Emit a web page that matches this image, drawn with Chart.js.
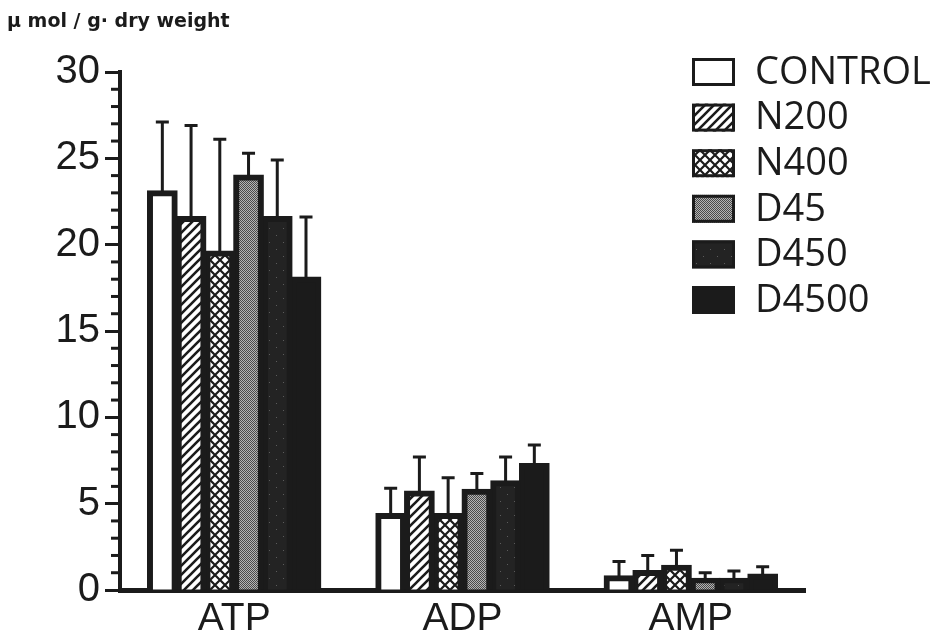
<!DOCTYPE html>
<html>
<head>
<meta charset="utf-8">
<script src="https://cdn.jsdelivr.net/npm/chart.js@4.4.1/dist/chart.umd.min.js"></script>
<style>
html, body { margin: 0; padding: 0; background: #fff; }
</style>
</head>
<body>
<canvas id="barChart" width="943" height="642"></canvas>
<script>
'use strict';

// categories and groups
const categories = ['ATP', 'ADP', 'AMP'];
const groups = ['CONTROL', 'N200', 'N400', 'D45', 'D450', 'D4500'];

// means (umol / g dry weight)
const control = [23.1, 4.4, 0.8];
const n200 = [21.6, 5.7, 1.1];
const n400 = [19.6, 4.4, 1.4];
const d45 = [24.0, 5.8, 0.65];
const d450 = [21.6, 6.3, 0.65];
const d4500 = [18.1, 7.3, 0.9];

// SD (upper error bar only)
const controlSd = [4.0, 1.5, 0.85];
const n200Sd = [5.3, 2.0, 0.9];
const n400Sd = [6.5, 2.1, 0.9];
const d45Sd = [1.3, 0.95, 0.35];
const d450Sd = [3.3, 1.4, 0.45];
const d4500Sd = [3.5, 1.1, 0.45];

const yTicks = [0, 5, 10, 15, 20, 25, 30];

const INK = '#1b1b1b';

function makeTile(w, h, draw) {
    let c = document.createElement('canvas');
    c.width = w;
    c.height = h;
    draw(c.getContext('2d'));
    return document.getElementById('barChart').getContext('2d').createPattern(c, 'repeat');
}

let hatch = makeTile(9, 9, function (g) {
    g.fillStyle = '#fff';
    g.fillRect(0, 0, 9, 9);
    g.strokeStyle = INK;
    g.lineWidth = 2.6;
    g.beginPath();
    g.moveTo(-1, 10); g.lineTo(10, -1);
    g.moveTo(-5, 5); g.lineTo(5, -5);
    g.moveTo(4, 14); g.lineTo(14, 4);
    g.stroke();
});

let cross = makeTile(10, 10, function (g) {
    g.fillStyle = '#fff';
    g.fillRect(0, 0, 10, 10);
    g.strokeStyle = INK;
    g.lineWidth = 2.2;
    g.beginPath();
    g.moveTo(-1, 11); g.lineTo(11, -1);
    g.moveTo(-1, -1); g.lineTo(11, 11);
    g.stroke();
});

let stipple = makeTile(2, 2, function (g) {
    g.fillStyle = '#b4b4b4';
    g.fillRect(0, 0, 2, 2);
    g.fillStyle = '#4a4a4a';
    g.fillRect(0, 0, 1, 1);
    g.fillRect(1, 1, 1, 1);
});

let darkDots = makeTile(14, 14, function (g) {
    g.fillStyle = '#232323';
    g.fillRect(0, 0, 14, 14);
    g.fillStyle = '#5c5c5c';
    g.fillRect(3, 4, 1, 1);
    g.fillRect(10, 11, 1, 1);
});

const fills = ['#ffffff', hatch, cross, stipple, darkDots, INK];
const means = [control, n200, n400, d45, d450, d4500];
const sds = [controlSd, n200Sd, n400Sd, d45Sd, d450Sd, d4500Sd];

let datasets = [];
for (let i = 0; i < groups.length; i++) {
    datasets.push({
        label: groups[i],
        data: means[i],
        sd: sds[i],
        backgroundColor: fills[i],
        borderColor: INK,
        borderWidth: 6,
        borderSkipped: 'bottom',
        inflateAmount: 1
    });
}

// upward error bars, minor y ticks, legend
const extras = {
    id: 'extras',
    afterDatasetsDraw: function (chart) {
        let ctx = chart.ctx;
        let y = chart.scales.y;
        ctx.save();
        ctx.strokeStyle = INK;
        ctx.lineWidth = 3;
        chart.data.datasets.forEach(function (ds, di) {
            let meta = chart.getDatasetMeta(di);
            meta.data.forEach(function (bar, i) {
                let top = y.getPixelForValue(ds.data[i] + ds.sd[i]);
                ctx.beginPath();
                ctx.moveTo(bar.x, bar.y);
                ctx.lineTo(bar.x, top);
                ctx.moveTo(bar.x - 6.5, top);
                ctx.lineTo(bar.x + 6.5, top);
                ctx.stroke();
            });
        });
        // minor ticks
        for (let v = 1; v < 30; v++) {
            if (v % 5 === 0) continue;
            let py = y.getPixelForValue(v);
            ctx.beginPath();
            ctx.moveTo(chart.chartArea.left - 9, py);
            ctx.lineTo(chart.chartArea.left, py);
            ctx.stroke();
        }
        ctx.restore();
    },
    afterDraw: function (chart) {
        let ctx = chart.ctx;
        ctx.save();
        ctx.font = '38px "Open Sans"';
        ctx.textBaseline = 'middle';
        chart.data.datasets.forEach(function (ds, i) {
            let cy = 72 + i * 45.6;
            ctx.fillStyle = ds.backgroundColor;
            ctx.fillRect(692, cy - 14, 43, 28);
            ctx.strokeStyle = INK;
            ctx.lineWidth = 3;
            ctx.strokeRect(693.5, cy - 12.5, 40, 25);
            ctx.fillStyle = INK;
            ctx.fillText(ds.label, 755, cy + 1);
        });
        ctx.restore();
    }
};

let barChartCanvas = document.getElementById('barChart').getContext('2d');
let barChart = new Chart(barChartCanvas, {
    type: 'bar',
    data: {
        labels: categories,
        datasets: datasets
    },
    options: {
        responsive: false,
        animation: false,
        layout: {
            padding: { left: 7, right: 138, top: 0, bottom: 0 }
        },
        plugins: {
            legend: { display: false },
            tooltip: { enabled: false },
            title: {
                display: true,
                text: 'μ mol / g· dry weight',
                align: 'start',
                color: INK,
                font: { family: '"DejaVu Sans", sans-serif', size: 19, weight: 'bold', lineHeight: 1.2 },
                padding: { top: 11, bottom: 38.2 }
            }
        },
        datasets: {
            bar: { categoryPercentage: 0.755, barPercentage: 1.0 }
        },
        scales: {
            x: {
                grid: { display: false, drawTicks: false },
                border: { display: true, color: INK, width: 5 },
                ticks: {
                    color: INK,
                    padding: 10,
                    font: { family: '"Liberation Sans", Arial, sans-serif', size: 39, lineHeight: 1 }
                },
                afterFit: function (s) { s.height = 52; }
            },
            y: {
                min: 0,
                max: 30,
                afterBuildTicks: function (s) {
                    s.ticks = yTicks.map(function (v) { return { value: v }; });
                },
                grid: {
                    drawOnChartArea: false,
                    tickLength: 15,
                    tickWidth: 3,
                    tickColor: INK
                },
                border: { display: true, color: INK, width: 4 },
                ticks: {
                    color: INK,
                    padding: 5,
                    font: { family: '"Liberation Sans", Arial, sans-serif', size: 40, lineHeight: 1 }
                },
                afterFit: function (s) { s.width = 113; }
            }
        }
    },
    plugins: [extras]
});
</script>
</body>
</html>
